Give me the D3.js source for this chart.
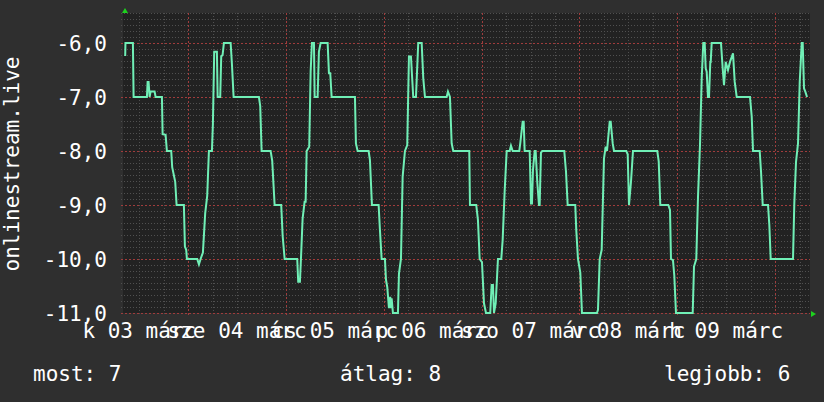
<!DOCTYPE html>
<html>
<head>
<meta charset="utf-8">
<script src="https://d3js.org/d3.v7.min.js"></script>
<style>
  html, body { margin: 0; padding: 0; background: #2f2f2f; }
  #chart { width: 824px; height: 402px; }
</style>
</head>
<body>
<div id="chart"></div>
<script>
// Hours since 2020-03-03 00:00 and the value read at that moment.
const sampleHours = [
  8.54, 8.6, 10.43, 10.6, 13.87, 14.04, 14.28, 14.53, 14.77, 15.75, 16.0, 17.55, 17.72, 18.45, 18.77, 19.83,
  20.07, 20.81, 21.15, 22.94, 23.19, 23.51, 23.68, 26.21, 26.63, 27.04, 27.61, 28.17, 28.66, 29.08, 29.82,
  30.06, 30.38, 31.04, 31.22, 31.85, 32.10, 32.44, 32.76, 34.41, 34.72, 35.14, 41.35, 41.67, 42.01, 44.22,
  44.61, 45.20, 46.82, 47.17, 47.66,
  50.75, 50.99, 51.41, 51.66, 52.07, 52.56, 52.81, 53.06, 53.69, 54.04, 54.36, 54.85, 55.02, 55.75, 56.07,
  56.49, 58.21, 58.53, 58.85, 59.19, 64.91, 65.15, 65.57, 68.27, 68.59, 69.08, 70.72, 71.04, 71.46, 72.27,
  72.52, 72.84, 73.25, 73.57, 73.74, 73.91, 74.23, 75.46, 75.71, 76.20, 76.61, 77.18, 77.74, 78.16, 78.65,
  79.21, 79.88, 80.44, 81.28, 81.67, 82.09, 87.41, 87.73, 88.22, 88.64, 89.03, 92.96,
  93.13, 94.67, 95.09, 95.51, 96.08, 96.57, 97.06, 98.11, 98.45, 98.77, 99.02, 99.44, 100.0, 100.81, 101.15,
  101.64, 102.14, 102.87, 103.19, 103.61, 105.23, 105.47, 106.06, 106.31, 106.55, 107.78, 108.10, 108.34,
  108.59, 109.01, 109.25, 109.64, 110.06, 110.23, 110.55, 110.87, 116.27, 116.69, 117.10, 118.97, 119.21,
  119.63, 120.20, 120.61, 124.29, 124.54, 124.96, 125.45, 126.01, 126.43, 126.75, 127.41, 127.66, 128.15,
  128.47, 131.48, 131.83, 132.15, 132.64, 133.13,
  139.09, 139.44, 139.83, 141.79, 142.21, 142.45, 142.94, 143.26, 143.68, 147.78, 148.10, 148.66, 149.08,
  149.57, 149.99, 150.38, 150.72, 150.97, 151.21, 151.53, 151.78, 152.10, 152.20, 152.44, 154.72, 155.14,
  155.46, 155.88, 156.44, 156.93, 157.67, 158.09, 158.58, 161.84, 162.26, 162.58, 164.22, 164.54, 164.96,
  166.26, 166.58, 166.92, 172.39, 172.71, 173.13, 173.62, 174.04, 174.53, 174.77, 175.09, 175.41, 175.83
];

const sampleValues = [
  -6.24, -6.0, -6.0, -7.0, -7.0, -6.72, -6.72, -7.0, -6.9, -6.9, -7.0, -7.0, -7.69, -7.7, -8.0, -8.0,
  -8.3, -8.57, -9.0, -9.0, -9.77, -9.83, -10.0, -10.0, -10.1, -10.0, -9.88, -9.15, -8.83, -8.0, -8.0,
  -7.49, -6.16, -6.16, -7.0, -7.0, -6.25, -6.22, -6.0, -6.0, -6.38, -7.0, -7.0, -7.17, -8.0, -8.0,
  -8.18, -9.0, -9.0, -9.57, -10.0,
  -10.0, -10.42, -10.42, -10.0, -9.25, -8.94, -8.94, -8.0, -7.92, -6.53, -6.0, -6.0, -7.0, -7.0, -6.16,
  -6.0, -6.0, -6.56, -6.56, -7.0, -7.0, -7.86, -8.0, -8.0, -8.17, -9.0, -9.0, -9.46, -10.0, -10.0,
  -10.38, -10.52, -10.91, -10.7, -10.91, -10.73, -11.0, -11.0, -10.27, -10.0, -8.48, -8.0, -7.89, -6.25, -6.25,
  -7.0, -7.0, -6.0, -6.0, -6.65, -7.0, -7.0, -6.9, -7.0, -7.86, -8.0, -8.0,
  -9.0, -9.0, -9.28, -10.0, -10.06, -10.82, -11.0, -11.0, -10.48, -10.48, -11.0, -10.82, -10.0, -10.0, -9.65,
  -8.75, -8.0, -8.0, -7.9, -8.0, -8.0, -7.86, -7.46, -7.46, -8.0, -8.0, -8.97, -8.97,
  -8.35, -8.0, -8.0, -8.57, -9.0, -9.0, -8.03, -8.0, -8.0, -8.38, -9.0, -9.0, -9.46,
  -10.0, -10.25, -11.0, -11.0, -10.94, -10.0, -9.83, -8.14, -7.92, -8.0, -7.46, -7.46, -7.86,
  -8.0, -8.0, -8.06, -9.0, -8.57, -8.0,
  -8.0, -8.19, -9.0, -9.0, -9.09, -10.0, -10.02, -10.3, -11.0, -11.0, -10.14, -10.0, -8.85,
  -7.89, -6.65, -6.0, -6.0, -6.47, -6.53, -7.0, -7.0, -6.35, -6.35, -6.0, -6.0, -6.47,
  -6.78, -6.35, -6.5, -6.35, -6.19, -6.72, -7.0, -7.0, -7.36, -8.0, -8.0, -8.38, -9.0,
  -9.0, -9.37, -10.0, -10.0, -8.97, -8.2, -7.86, -6.72, -6.0, -6.0, -6.84, -6.9, -7.0
];

const dayLabels = ['k 03 márc', 'sze 04 márc', 'cs 05 márc', 'p 06 márc', 'szo 07 márc', 'v 08 márc', 'h 09 márc'];
const yTickValues = [-11, -10, -9, -8, -7, -6];
const yTitle = 'onlinestream.live';
const legendItems = ['most: 7', 'átlag: 8', 'legjobb: 6'];

function chart() {
  const attrs = {
    svgWidth: 824,
    svgHeight: 402,
    plotLeft: 123,
    plotRight: 810,
    plotTop: 13,
    plotBottom: 313,
    container: '#chart',
    startHour: 8,
    endHour: 176.56,
    yMin: -11,
    yMax: -49 / 9,
    minorSteps: 9,
    font: '"DejaVu Sans Mono", monospace',
    fontSize: 21,
    bg: '#2f2f2f',
    plotBg: '#222222',
    minorGrid: '#505050',
    majorGrid: '#a03c3c',
    lineColor: '#70efb6',
    textColor: '#ffffff',
    arrowColor: '#1ed21e',
    legendX: [33, 340, 664],
    legendY: 381
  };

  const base = new Date(2020, 2, 3, 0, 0, 0);
  const toDate = h => new Date(base.getTime() + h * 3600 * 1000);

  function main() {
    const container = d3.select(attrs.container);

    // Scales.
    const xScale = d3.scaleTime()
      .domain([toDate(attrs.startHour), toDate(attrs.endHour)])
      .range([attrs.plotLeft, attrs.plotRight]);

    const yScale = d3.scaleLinear()
      .domain([attrs.yMin, attrs.yMax])
      .range([attrs.plotBottom, attrs.plotTop]);

    const locale = d3.formatLocale({ decimal: ',', thousands: ' ', grouping: [3], currency: ['', ''], minus: '-' });
    const fmt = locale.format('.1f');

    const points = sampleHours.map((h, i) => ({ t: toDate(h), v: sampleValues[i] }));

    const svg = container.append('svg')
      .attr('width', attrs.svgWidth)
      .attr('height', attrs.svgHeight)
      .style('font-family', attrs.font)
      .style('font-size', attrs.fontSize + 'px');

    svg.append('rect')
      .attr('width', attrs.svgWidth)
      .attr('height', attrs.svgHeight)
      .attr('fill', attrs.bg);

    svg.append('rect')
      .attr('x', attrs.plotLeft)
      .attr('y', attrs.plotTop)
      .attr('width', attrs.plotRight - attrs.plotLeft)
      .attr('height', attrs.plotBottom - attrs.plotTop)
      .attr('fill', attrs.plotBg);

    const grid = svg.append('g').attr('shape-rendering', 'crispEdges');

    // Horizontal minor grid.
    const minorY = d3.range(1, Math.round((attrs.yMax - attrs.yMin) * attrs.minorSteps) + 1)
      .filter(i => i % attrs.minorSteps !== 0)
      .map(i => attrs.yMin + i / attrs.minorSteps);

    grid.selectAll('.h-minor')
      .data(minorY)
      .join('line')
      .attr('class', 'h-minor')
      .attr('x1', attrs.plotLeft - 2)
      .attr('x2', attrs.plotRight)
      .attr('y1', d => Math.round(yScale(d)) + 0.5)
      .attr('y2', d => Math.round(yScale(d)) + 0.5)
      .attr('stroke', attrs.minorGrid)
      .attr('stroke-dasharray', '1 2');

    // Vertical minor grid, every 6 hours.
    const sixHours = d3.timeHour.every(6).range(xScale.domain()[0], xScale.domain()[1])
      .filter(d => d.getHours() !== 0);

    grid.selectAll('.v-minor')
      .data(sixHours)
      .join('line')
      .attr('class', 'v-minor')
      .attr('x1', d => Math.round(xScale(d)) + 0.5)
      .attr('x2', d => Math.round(xScale(d)) + 0.5)
      .attr('y1', attrs.plotTop)
      .attr('y2', attrs.plotBottom + 3)
      .attr('stroke', attrs.minorGrid)
      .attr('stroke-dasharray', '1 2');

    // Major grids.
    grid.selectAll('.h-major')
      .data(yTickValues)
      .join('line')
      .attr('class', 'h-major')
      .attr('x1', attrs.plotLeft - 2)
      .attr('x2', attrs.plotRight)
      .attr('y1', d => Math.round(yScale(d)) + 0.5)
      .attr('y2', d => Math.round(yScale(d)) + 0.5)
      .attr('stroke', attrs.majorGrid)
      .attr('stroke-dasharray', '2 2');

    const days = d3.timeDay.range(xScale.domain()[0], xScale.domain()[1]);

    grid.selectAll('.v-major')
      .data(days)
      .join('line')
      .attr('class', 'v-major')
      .attr('x1', d => Math.round(xScale(d)) + 0.5)
      .attr('x2', d => Math.round(xScale(d)) + 0.5)
      .attr('y1', attrs.plotTop)
      .attr('y2', attrs.plotBottom + 3)
      .attr('stroke', attrs.majorGrid)
      .attr('stroke-dasharray', '2 2');

    // Data line.
    const line = d3.line()
      .x(d => xScale(d.t))
      .y(d => yScale(d.v));

    svg.append('path')
      .datum(points)
      .attr('d', line)
      .attr('fill', 'none')
      .attr('stroke', attrs.lineColor)
      .attr('stroke-width', 2)
      .attr('stroke-linejoin', 'miter');

    // Axis arrows.
    const ax = attrs.plotLeft + 2;
    svg.append('path')
      .attr('d', `M${ax - 3},${attrs.plotTop} L${ax + 3},${attrs.plotTop} L${ax},${attrs.plotTop - 5} Z`)
      .attr('fill', attrs.arrowColor);

    const ay = attrs.plotBottom + 1;
    svg.append('path')
      .attr('d', `M${attrs.plotRight + 1},${ay - 3} L${attrs.plotRight + 1},${ay + 3} L${attrs.plotRight + 6},${ay} Z`)
      .attr('fill', attrs.arrowColor);

    // Y tick labels.
    svg.selectAll('.y-label')
      .data(yTickValues)
      .join('text')
      .attr('class', 'y-label')
      .attr('x', 107)
      .attr('y', d => yScale(d))
      .attr('dy', '0.36em')
      .attr('text-anchor', 'end')
      .attr('fill', attrs.textColor)
      .text(d => fmt(d));

    // X labels, centred at noon of each day.
    const noons = dayLabels.map((s, i) => d3.timeHour.offset(d3.timeDay.offset(base, i), 12));

    svg.selectAll('.x-label')
      .data(dayLabels)
      .join('text')
      .attr('class', 'x-label')
      .attr('x', (d, i) => xScale(noons[i]))
      .attr('y', 338)
      .attr('text-anchor', 'middle')
      .attr('fill', attrs.textColor)
      .text(d => d);

    // Y axis title.
    svg.append('text')
      .attr('transform', 'translate(18.5,164) rotate(-90)')
      .attr('text-anchor', 'middle')
      .attr('fill', attrs.textColor)
      .text(yTitle);

    // Legend.
    svg.selectAll('.legend')
      .data(legendItems)
      .join('text')
      .attr('class', 'legend')
      .attr('x', (d, i) => attrs.legendX[i])
      .attr('y', attrs.legendY)
      .attr('fill', attrs.textColor)
      .text(d => d);
  }

  main.render = function render() {
    main();
    return main;
  };

  return main;
}

chart().render();
</script>
</body>
</html>
